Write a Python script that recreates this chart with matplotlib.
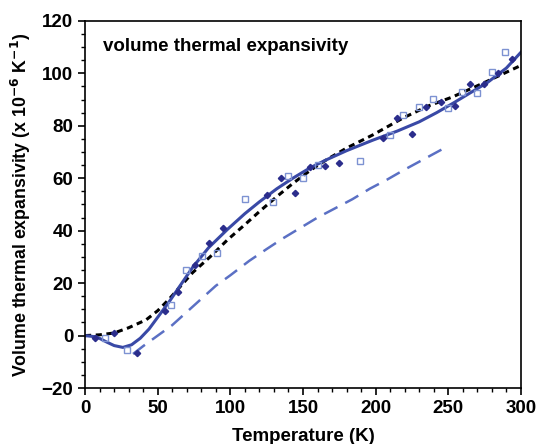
import matplotlib
matplotlib.use("Agg")
import matplotlib.pyplot as plt
from matplotlib.ticker import MultipleLocator

plt.rcParams['font.family'] = ['Liberation Sans', 'DejaVu Sans']
plt.rcParams['font.weight'] = 'bold'
plt.rcParams['mathtext.default'] = 'bf'

# solid fit curve
fit_T = [0, 8, 15, 20, 26, 32, 38, 44, 50, 58, 66, 74, 85, 98, 110, 120, 132,
         143, 155, 166, 180, 198, 215, 230, 242, 253, 265, 277, 290, 300]
fit_V = [0, -0.5, -2.5, -3.8, -4.5, -3.5, -1, 2.5, 7, 13, 19.5, 26, 33.5, 40.5,
         46.5, 51, 56, 60, 64, 67, 70.5, 74.5, 78, 81.5, 85, 88.5, 92.5, 96.5,
         102, 108]

# black short-dashed curve
blk_T = [0, 10, 20, 30, 42, 50, 58, 66, 74, 86, 98, 110, 120, 132, 143, 155,
         166, 180, 198, 219, 236, 253, 275, 300]
blk_V = [0, 0.3, 1, 3, 6, 9.5, 14, 19, 24, 30, 36.5, 42.3, 47.3, 53, 58, 63,
         67, 71.5, 76.5, 83, 87.5, 91, 96.5, 103]

# lower long-dashed curve
low_T = [33, 40, 50, 60, 70, 80, 90, 100, 113, 125, 136, 148, 160, 172, 184,
         196, 208, 219, 234, 249]
low_V = [-7, -4, 0, 4, 9, 14, 19, 23, 28.5, 33, 37, 41, 45, 48.5, 52, 56,
         59.5, 63, 67.5, 72]

# filled diamonds
dia_T = [7, 20, 36, 55, 64, 76, 85, 95, 125, 135, 144.5, 155, 165, 175, 205,
         215, 225, 235, 245, 255, 265, 274.5, 284, 294]
dia_V = [-1, 1, -6.7, 9.5, 16.5, 27, 35.3, 41.2, 53.5, 60, 54.5, 64.3, 64.8,
         65.8, 75.3, 83, 77, 87.2, 89, 87.6, 96, 96, 100, 105.5]

# open squares
sq_T = [14, 29, 59, 69.5, 80.5, 91, 110, 129.5, 140, 150, 160, 189, 210, 219,
        230, 239.5, 249.5, 259.5, 270, 280, 289]
sq_V = [-0.8, -5.6, 11.6, 25, 30.3, 31.5, 52, 51, 60.8, 60, 65, 66.6, 76.3,
        84, 87.2, 90.2, 86.8, 92.8, 92.5, 100.5, 108.2]

fig = plt.figure(figsize=(5.42, 4.44), dpi=100)
ax = fig.add_axes([0.157, 0.126, 0.804, 0.827])

ax.plot(low_T, low_V, color='#5b70c4', lw=1.8, dashes=(6, 3.5))
ax.plot(blk_T, blk_V, color='black', lw=2.2, dashes=(2, 1.5))
ax.plot(fit_T, fit_V, color='#3949a6', lw=2.2)
ax.plot(sq_T, sq_V, ls='none', marker='s', ms=4.5, mfc='none',
        mec='#7d92d2', mew=1.0)
ax.plot(dia_T, dia_V, ls='none', marker='D', ms=3.2, color='#2b2d8c')

ax.set_xlim(0, 300)
ax.set_ylim(-20, 120)
ax.xaxis.set_major_locator(MultipleLocator(50))
ax.xaxis.set_minor_locator(MultipleLocator(10))
ax.yaxis.set_major_locator(MultipleLocator(20))
ax.yaxis.set_minor_locator(MultipleLocator(5))
ax.tick_params(which='major', direction='out', length=5, width=1.2,
               labelsize=13.5, top=False, right=False)
ax.tick_params(which='minor', direction='out', length=3, width=1.0,
               top=False, right=False)
for lab in ax.get_xticklabels() + ax.get_yticklabels():
    lab.set_fontweight('bold')
for sp in ax.spines.values():
    sp.set_linewidth(1.2)

ax.set_xlabel('Temperature (K)', fontsize=13.5, fontweight='bold', labelpad=8)
ax.set_ylabel('Volume thermal expansivity (x 10$^{-6}$ K$^{-1}$)',
              fontsize=12.8, fontweight='bold', labelpad=6)
ax.text(0.04, 0.93, 'volume thermal expansivity', transform=ax.transAxes,
        fontsize=13.5, fontweight='bold', va='center')

fig.savefig('out.png', dpi=100)
